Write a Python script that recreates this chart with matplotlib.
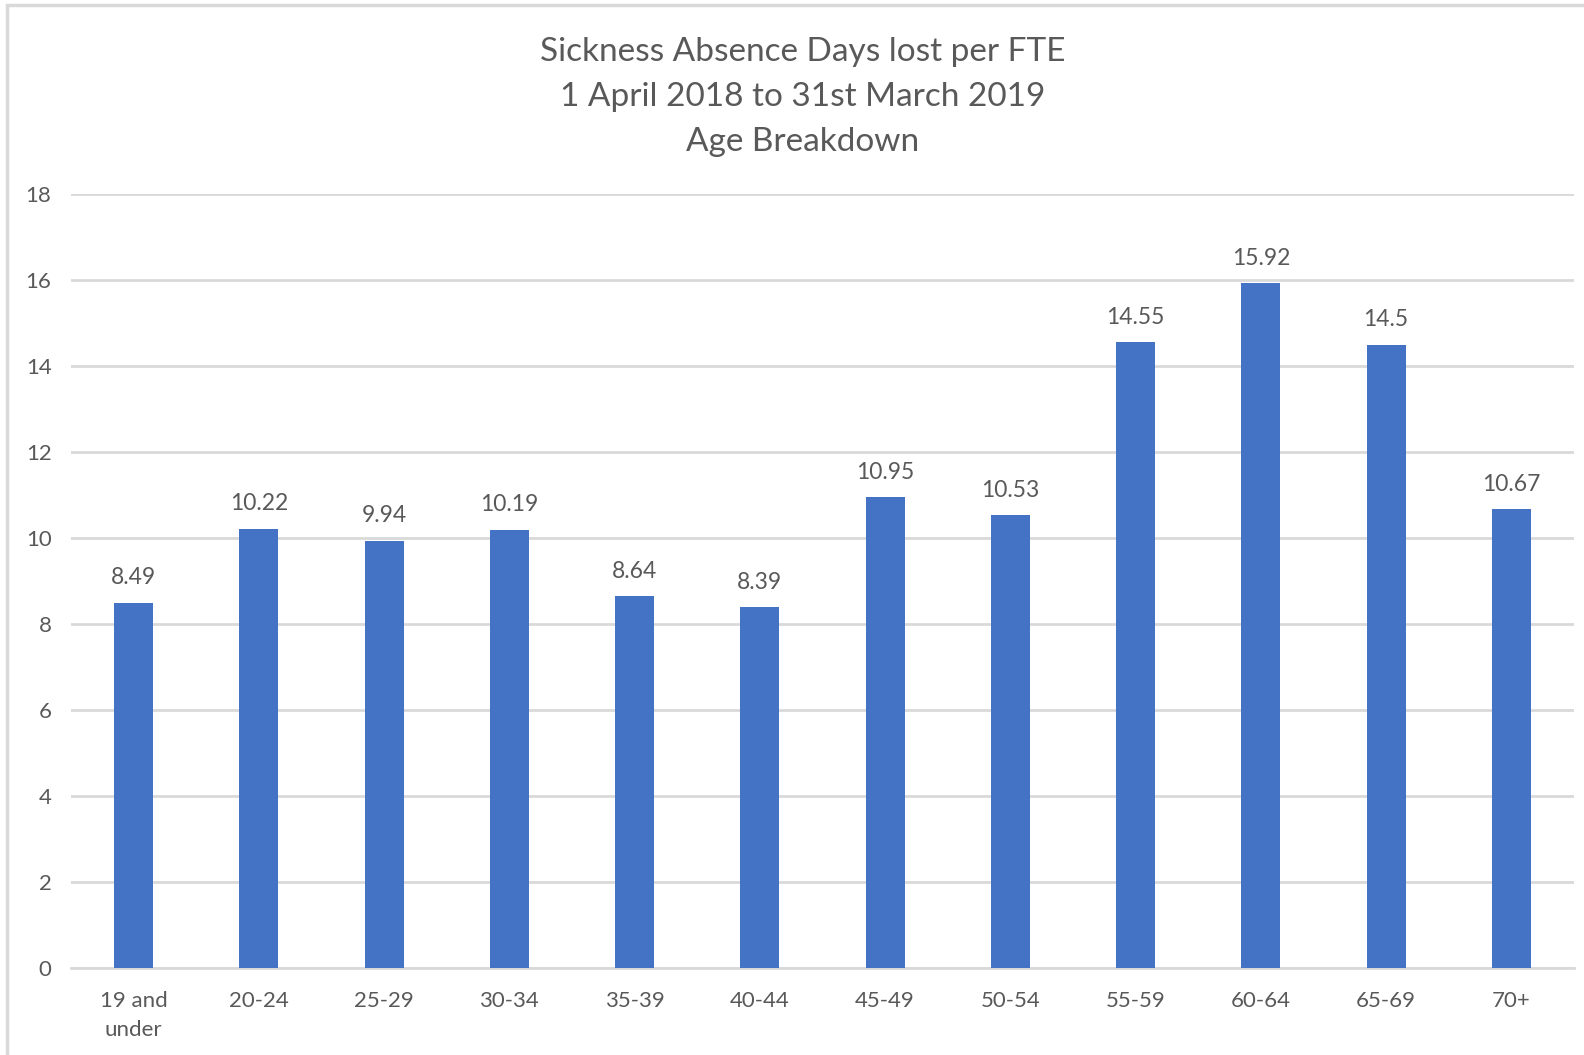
import numpy as np
import matplotlib.pyplot as plt
from matplotlib.patches import Rectangle

age_groups = ["19 and\nunder", "20-24", "25-29", "30-34", "35-39", "40-44",
              "45-49", "50-54", "55-59", "60-64", "65-69", "70+"]
days_lost = [8.49, 10.22, 9.94, 10.19, 8.64, 8.39,
             10.95, 10.53, 14.55, 15.92, 14.5, 10.67]
labels = ["8.49", "10.22", "9.94", "10.19", "8.64", "8.39",
          "10.95", "10.53", "14.55", "15.92", "14.5", "10.67"]

text_col = "#595959"
grid_col = "#d9d9d9"
bar_col = "#4472c4"

plt.rcParams['font.family'] = ['Lato', 'DejaVu Sans']

fig = plt.figure(figsize=(15.84, 10.55), dpi=100)
W, H = 1584, 1055

# chart area outline (only left/top edges fall inside the image)
fig.patches.append(Rectangle((7 / W, -0.05), 1.2, 1 - 5 / H + 0.05,
                             transform=fig.transFigure, fill=False,
                             edgecolor=grid_col, linewidth=2.5))

ax = fig.add_axes([71 / W, 1 - 968 / H, (1574 - 71) / W, (968 - 194) / H])

x = np.arange(len(age_groups))
bars = ax.bar(x, days_lost, width=0.31, color=bar_col, zorder=3)

for xi, v, lab in zip(x, days_lost, labels):
    ax.annotate(lab, (xi, v), xytext=(0, 10.5), textcoords="offset points",
                ha="center", va="bottom", fontsize=16.5, color=text_col)

ax.set_xlim(-0.5, len(age_groups) - 0.5)
ax.set_ylim(0, 18)
ax.set_yticks(np.arange(0, 19, 2))
ax.yaxis.grid(True, color=grid_col, linewidth=2, zorder=0)
ax.set_axisbelow(True)

ax.set_xticks(x)
ax.set_xticklabels(age_groups, fontsize=16, color=text_col, linespacing=1.55)
ax.tick_params(axis="x", length=0, pad=16.5)
ax.tick_params(axis="y", length=0, pad=14, labelsize=16, labelcolor=text_col)

for s in ["top", "right", "left"]:
    ax.spines[s].set_visible(False)
ax.spines["bottom"].set_color(grid_col)
ax.spines["bottom"].set_linewidth(2)

fig.text(803 / W, 1 - 37 / H,
         "Sickness Absence Days lost per FTE\n1 April 2018 to 31st March 2019\nAge Breakdown",
         ha="center", va="top", fontsize=24, color=text_col, linespacing=1.62)

fig.savefig("out.png", dpi=100)
